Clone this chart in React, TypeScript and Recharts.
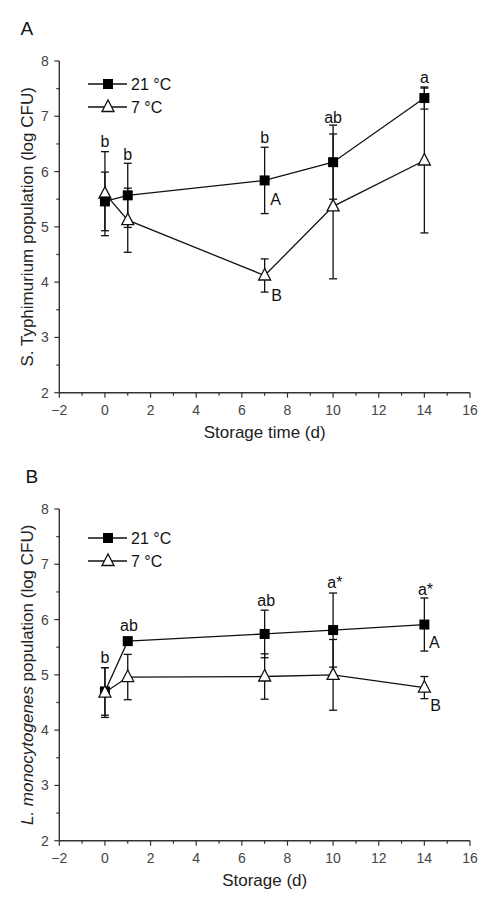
import {
  ComposedChart,
  Line,
  XAxis,
  YAxis,
  ErrorBar,
  ReferenceDot,
  Legend,
} from "recharts";

// storage days sampled
const days = [0, 1, 7, 10, 14];

// panel A: S. Typhimurium
const aWarm = [5.46, 5.57, 5.84, 6.17, 7.33];
const aWarmErr = [0.53, 0.58, 0.6, 0.67, 0.2];
const aCold = [5.6, 5.12, 4.12, 5.37, 6.2];
const aColdErr = [0.76, 0.58, 0.3, 1.31, 1.31];

// panel B: L. monocytogenes
const bWarm = [4.7, 5.61, 5.74, 5.81, 5.91];
const bWarmErr = [0.43, 0, 0.43, 0.67, 0.48];
const bCold = [4.68, 4.96, 4.97, 5.0, 4.77];
const bColdErr = [0.45, 0.41, 0.41, 0.64, 0.2];

// significance letters (x, y in data units, text)
const aNotes: [number, number, string][] = [
  [0, 6.54, "b"],
  [1, 6.32, "b"],
  [7, 6.62, "b"],
  [10, 6.99, "ab"],
  [14, 7.7, "a"],
  [7.48, 5.49, "A"],
  [7.52, 3.77, "B"],
];
const bNotes: [number, number, string][] = [
  [0, 5.32, "b"],
  [1.05, 5.9, "ab"],
  [7.07, 6.35, "ab"],
  [10.08, 6.67, "a*"],
  [14.05, 6.55, "a*"],
  [14.44, 5.58, "A"],
  [14.49, 4.44, "B"],
];

const xTicks = [-2, -1, 0, 1, 2, 3, 4, 5, 6, 7, 8, 9, 10, 11, 12, 13, 14, 15, 16];
const yTicks = [2, 2.5, 3, 3.5, 4, 4.5, 5, 5.5, 6, 6.5, 7, 7.5, 8];

const FONT = '"Liberation Sans", Arial, sans-serif';
const AXIS = "#333";
const INK = "#111";

function build(warm: number[], warmErr: number[], cold: number[], coldErr: number[]) {
  return days.map((d, i) => ({
    day: d,
    warm: warm[i],
    warmErr: warmErr[i],
    cold: cold[i],
    coldErr: coldErr[i],
  }));
}

function XTick(props: any) {
  const { x, y, payload } = props;
  const v = payload.value;
  const major = v % 2 === 0;
  const y0 = y - 5;
  return (
    <g>
      <line x1={x} x2={x} y1={y0} y2={y0 + (major ? 5 : 3)} stroke={AXIS} strokeWidth={1.2} />
      {major && (
        <text x={x} y={y0 + 22} textAnchor="middle" fontSize={14} fill="#444">
          {v < 0 ? `\u2212${-v}` : v}
        </text>
      )}
    </g>
  );
}

function YTick(props: any) {
  const { x, y, payload } = props;
  const v = payload.value;
  const major = Number.isInteger(v);
  const x0 = x + 5;
  return (
    <g>
      <line x1={x0} x2={x0 - (major ? 5 : 3)} y1={y} y2={y} stroke={AXIS} strokeWidth={1.2} />
      {major && (
        <text x={x0 - 10.5} y={y} dy="0.36em" textAnchor="end" fontSize={14} fill="#444">
          {v}
        </text>
      )}
    </g>
  );
}

function squareDot(props: any) {
  const { cx, cy, index } = props;
  return <rect key={`sq-${index}`} x={cx - 5} y={cy - 5} width={10} height={10} fill="#000" />;
}

function triangleDot(props: any) {
  const { cx, cy, index } = props;
  return (
    <polygon
      key={`tr-${index}`}
      points={`${cx},${cy - 7} ${cx - 6},${cy + 4.5} ${cx + 6},${cy + 4.5}`}
      fill="#fff"
      stroke={INK}
      strokeWidth={1.3}
    />
  );
}

function LegendBox() {
  return (
    <svg width={110} height={46} style={{ fontFamily: FONT, overflow: "visible" }}>
      <line x1={0} x2={39} y1={10} y2={10} stroke={INK} strokeWidth={1.3} />
      <rect x={15} y={5} width={10} height={10} fill="#000" />
      <text x={43} y={10} dy="0.36em" fontSize={16} fill={INK}>
        21 °C
      </text>
      <line x1={0} x2={39} y1={33} y2={33} stroke={INK} strokeWidth={1.3} />
      <polygon points="20,26 14,37.5 26,37.5" fill="#fff" stroke={INK} strokeWidth={1.3} />
      <text x={43} y={33} dy="0.36em" fontSize={16} fill={INK}>
        7 °C
      </text>
    </svg>
  );
}

interface PanelProps {
  top: number;
  height: number;
  bottom: number;
  legendTop: number;
  data: ReturnType<typeof build>;
  notes: [number, number, string][];
  xTitle: string;
  yTitle: React.ReactNode;
  coldFirst: boolean;
}

function Panel({ top, height, bottom, legendTop, data, notes, xTitle, yTitle, coldFirst }: PanelProps) {
  const warmLine = (
    <Line
      key="warm"
      dataKey="warm"
      stroke={INK}
      strokeWidth={1.3}
      dot={squareDot}
      activeDot={false}
      isAnimationActive={false}
    >
      <ErrorBar dataKey="warmErr" width={4} stroke={INK} strokeWidth={1.3} direction="y" isAnimationActive={false} />
    </Line>
  );
  const coldLine = (
    <Line
      key="cold"
      dataKey="cold"
      stroke={INK}
      strokeWidth={1.3}
      dot={triangleDot}
      activeDot={false}
      isAnimationActive={false}
    >
      <ErrorBar dataKey="coldErr" width={4} stroke={INK} strokeWidth={1.3} direction="y" isAnimationActive={false} />
    </Line>
  );
  return (
    <div style={{ position: "absolute", top, left: 0, width: 504, height }}>
      <ComposedChart
        width={504}
        height={height}
        data={data}
        margin={{ top: 61, right: 34, bottom, left: 9.3 }}
        style={{ fontFamily: FONT }}
      >
        <XAxis
          dataKey="day"
          type="number"
          domain={[-2, 16]}
          ticks={xTicks}
          interval={0}
          height={50}
          tickSize={5}
          tickMargin={0}
          tickLine={false}
          tick={XTick}
          axisLine={{ stroke: AXIS, strokeWidth: 1.4 }}
          label={{
            content: (p: any) => {
              const vb = p.viewBox;
              return (
                <text x={vb.x + vb.width / 2} y={vb.y + 45.5} textAnchor="middle" fontSize={17} fill="#222">
                  {xTitle}
                </text>
              );
            },
          }}
        />
        <YAxis
          type="number"
          domain={[2, 8]}
          ticks={yTicks}
          interval={0}
          width={50}
          tickSize={5}
          tickMargin={0}
          tickLine={false}
          tick={YTick}
          axisLine={{ stroke: AXIS, strokeWidth: 1.4 }}
          label={{
            content: (p: any) => {
              const vb = p.viewBox;
              const cx = 27;
              const cy = vb.y + vb.height / 2;
              return (
                <text
                  x={cx}
                  y={cy}
                  dy="0.35em"
                  transform={`rotate(-90 ${cx} ${cy})`}
                  textAnchor="middle"
                  fontSize={17}
                  fill="#222"
                >
                  {yTitle}
                </text>
              );
            },
          }}
        />
        <Legend
          layout="vertical"
          align="center"
          verticalAlign="middle"
          content={LegendBox}
          wrapperStyle={{ top: legendTop, left: 88, width: 110, height: 46 }}
        />
        {coldFirst ? [coldLine, warmLine] : [warmLine, coldLine]}
        {notes.map(([x, y, t], i) => (
          <ReferenceDot
            key={`n-${i}`}
            x={x}
            y={y}
            r={0}
            fill="none"
            stroke="none"
            label={{ value: t, position: "center", fontSize: 16, fill: INK }}
          />
        ))}
      </ComposedChart>
    </div>
  );
}

export default function App() {
  return (
    <div style={{ position: "absolute", top: 0, left: 0, width: 504, height: 913, background: "#fff", fontFamily: FONT }}>
      <svg width={504} height={913} style={{ position: "absolute", top: 0, left: 0 }}>
        <text x={20.5} y={34.5} fontSize={19} fill={INK}>
          A
        </text>
        <text x={25.5} y={482.5} fontSize={19} fill={INK}>
          B
        </text>
      </svg>
      <Panel
        top={0}
        height={456}
        bottom={13.3}
        legendTop={74.3}
        data={build(aWarm, aWarmErr, aCold, aColdErr)}
        notes={aNotes}
        xTitle="Storage time (d)"
        yTitle="S. Typhimurium population (log CFU)"
        coldFirst={true}
      />
      <Panel
        top={448}
        height={465}
        bottom={22.3}
        legendTop={80.3}
        data={build(bWarm, bWarmErr, bCold, bColdErr)}
        notes={bNotes}
        xTitle="Storage (d)"
        yTitle={
          <>
            <tspan fontStyle="italic">L. monocytogenes</tspan> population (log CFU)
          </>
        }
        coldFirst={false}
      />
    </div>
  );
}
